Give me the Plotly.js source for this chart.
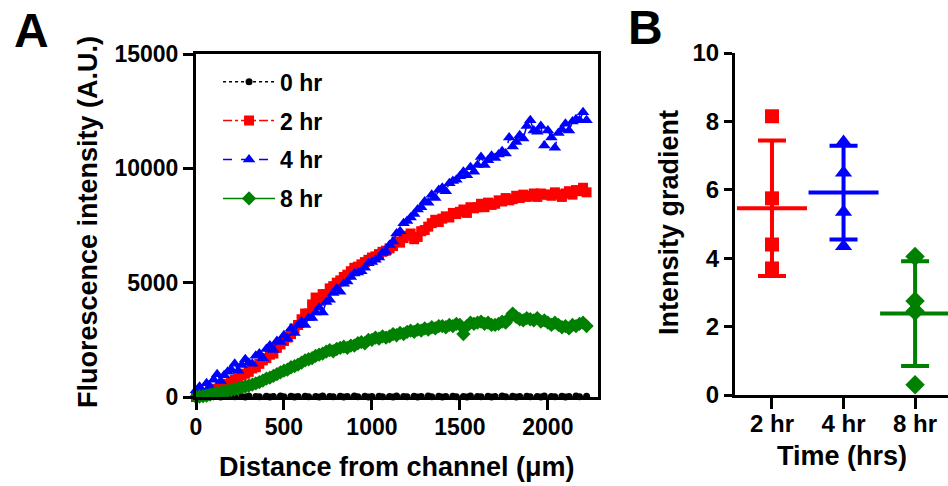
<!DOCTYPE html>
<html>
<head>
<meta charset="utf-8">
<script src="https://cdn.plot.ly/plotly-3.0.1.min.js"></script>
<style>
html,body{margin:0;padding:0;background:#fff;}
#chart{width:948px;height:486px;}
</style>
</head>
<body>
<div id="chart"></div>
<script>
// ---------- Panel A data ----------
const distance = [
0,20,40,60,80,100,120,140,160,180,
200,220,240,260,280,300,320,340,360,380,
400,420,440,460,480,500,520,540,560,580,
600,620,640,660,680,700,720,740,760,780,
800,820,840,860,880,900,920,940,960,980,
1000,1020,1040,1060,1080,1100,1120,1140,1160,1180,
1200,1220,1240,1260,1280,1300,1320,1340,1360,1380,
1400,1420,1440,1460,1480,1500,1520,1540,1560,1580,
1600,1620,1640,1660,1680,1700,1720,1740,1760,1780,
1800,1820,1840,1860,1880,1900,1920,1940,1960,1980,
2000,2020,2040,2060,2080,2100,2120,2140,2160,2180,
2200,2220];

const hr0 = [
0,20,-10,30,10,-20,40,0,20,-10,
30,10,-30,20,0,40,-10,20,10,-20,
30,0,20,-10,40,10,-20,30,0,20,
-10,30,10,-20,20,0,40,-10,20,10,
-20,30,0,20,-10,40,10,-20,30,0,
20,-10,30,10,-20,20,0,40,-10,20,
10,-20,30,0,20,-10,40,10,-20,30,
0,20,-10,30,10,-20,20,0,40,-10,
20,10,-20,30,0,20,-10,40,10,-20,
30,0,20,-10,30,10,-20,20,0,40,
-10,20,10,-20,30,0,20,-10,40,10,
-20,30];

const hr2 = [
0,60,120,180,250,300,360,440,520,580,
650,750,820,950,1020,1100,1250,1300,1450,1600,
1700,1850,1900,2150,2300,2450,2600,2750,3000,3150,
3400,3650,3650,4050,4350,4200,4500,4500,4750,4850,
5000,5100,5250,5350,5500,5650,5700,5800,5900,6000,
6100,6150,6250,6350,6400,6500,6600,6800,6750,6950,
7050,7150,6900,7000,7250,7300,7450,7600,7750,7650,
7800,7900,7850,8050,8000,8100,8200,8050,8300,8250,
8300,8450,8300,8500,8400,8450,8600,8550,8700,8600,
8650,8800,8700,8850,8750,8800,8900,8750,8900,8850,
8850,8800,8950,8850,8750,8900,9000,8850,9050,9000,
9150,8950];

const hr4 = [
300,450,200,600,450,750,1000,700,950,1100,
1200,1450,1150,1400,1650,1500,1450,1800,1900,1700,
2100,2250,2050,2450,2400,2700,2550,3000,2800,3150,
3300,3150,3450,3450,3700,3900,3700,4150,4250,4550,
4750,4600,4950,5050,5250,5400,5450,5500,5650,5850,
5900,6000,6100,6300,6350,6650,6800,7150,7250,7600,
7700,7850,8000,8200,8300,8550,8500,8850,8700,9050,
9150,9000,9350,9450,9500,9650,9850,9700,10050,9850,
10150,10500,10150,10350,10550,10450,10600,10750,10650,11350,
10950,11150,11450,11300,11850,12100,11650,11600,11850,11000,
11650,11350,10900,11550,11700,11950,11650,12050,12150,12100,
12450,12100];

const hr8 = [
0,20,40,60,100,150,180,200,250,270,
300,330,380,420,460,500,540,600,650,720,
800,850,920,1000,1080,1150,1200,1300,1350,1420,
1500,1600,1650,1700,1800,1850,1900,1980,2050,2000,
2100,2150,2200,2150,2250,2250,2350,2400,2350,2500,
2500,2600,2550,2650,2600,2650,2750,2700,2800,2750,
2850,2900,2850,2950,2900,3000,2950,3050,3000,3100,
3100,3050,3150,3100,3200,3150,2750,3100,3250,3200,
3250,3300,3200,3250,3150,3150,3200,3300,3250,3450,
3650,3500,3400,3350,3450,3400,3350,3450,3300,3350,
3250,3150,3250,3150,3050,3100,3000,3150,3100,3200,
3250,3100];

const seriesNames = ['0 hr','2 hr','4 hr','8 hr'];
const xTicksA = [0,500,1000,1500,2000];
const yTicksA = [0,5000,10000,15000];

// ---------- Panel B data ----------
const groups = ['2 hr','4 hr','8 hr'];
const grad2 = [8.15,5.75,4.4,3.7];
const grad4 = [7.4,6.5,5.35,4.35];
const grad8 = [4.05,2.75,2.45,0.3];
const gradMean = [5.46,5.92,2.38];
const gradSD = [1.98,1.37,1.53];
const yTicksB = [0,2,4,6,8,10];

const RED='#ff0000', BLUE='#0000ff', GREEN='#008000', BLACK='#000000';
const FONT='Arial, "Liberation Sans", sans-serif';

const traces = [
 {x:distance,y:hr0,name:seriesNames[0],mode:'lines+markers',legendgroup:'a',
  line:{color:BLACK,width:1.5,dash:'dot'},marker:{symbol:'circle',size:7,color:BLACK},cliponaxis:false,xaxis:'x',yaxis:'y'},
 {x:distance,y:hr2,name:seriesNames[1],mode:'lines+markers',legendgroup:'b',
  line:{color:RED,width:1.5,dash:'dashdot'},marker:{symbol:'square',size:10,color:RED},cliponaxis:false,xaxis:'x',yaxis:'y'},
 {x:distance,y:hr4,name:seriesNames[2],mode:'lines+markers',legendgroup:'c',
  line:{color:BLUE,width:1.5,dash:'dash'},marker:{symbol:'triangle-up',size:11,color:BLUE},cliponaxis:false,xaxis:'x',yaxis:'y'},
 {x:distance,y:hr8,name:seriesNames[3],mode:'lines+markers',legendgroup:'d',
  line:{color:GREEN,width:1.5},marker:{symbol:'diamond',size:11,color:GREEN},cliponaxis:false,xaxis:'x',yaxis:'y'},
];

// Panel B points
const ptsB = [[grad2,RED,'square',14],[grad4,BLUE,'triangle-up',15],[grad8,GREEN,'diamond',15]];
ptsB.forEach((p,i)=>{
  traces.push({x:p[0].map(()=>groups[i]),y:p[0],mode:'markers',showlegend:false,
    marker:{symbol:p[2],size:p[3],color:p[1]},cliponaxis:false,xaxis:'x2',yaxis:'y2'});
});
// Mean +/- SD
[RED,BLUE,GREEN].forEach((c,i)=>{
  traces.push({x:[groups[i]],y:[gradMean[i]],mode:'markers',showlegend:false,
    marker:{symbol:'line-ew',size:50,color:c,line:{color:c,width:4}},
    error_y:{type:'data',array:[gradSD[i]],visible:true,color:c,thickness:4,width:14},
    cliponaxis:false,xaxis:'x2',yaxis:'y2'});
});

const tickFont={family:FONT,size:23,color:'#000',weight:'bold'};
const tickFontB={family:FONT,size:24,color:'#000',weight:'bold'};
const titleFont={family:FONT,size:27,color:'#000',weight:'bold'};

const layout = {
  width:948,height:486,margin:{l:0,r:0,t:0,b:0},
  paper_bgcolor:'#fff',plot_bgcolor:'#fff',
  showlegend:true,
  legend:{x:0.230,y:0.876,xanchor:'left',yanchor:'top',font:{family:FONT,size:23,color:'#000',weight:'bold'},
    bgcolor:'rgba(0,0,0,0)',traceorder:'grouped',tracegroupgap:6,itemwidth:52},
  xaxis:{domain:[196/948,598/948],range:[0,2285],tickvals:xTicksA,ticktext:xTicksA.map(String),
    showline:true,linecolor:'#000',linewidth:3,mirror:true,ticks:'outside',ticklen:10,tickwidth:3,tickcolor:'#000',
    showgrid:false,zeroline:false,tickfont:tickFont,anchor:'y',automargin:false,ticklabelstandoff:-3},
  yaxis:{domain:[1-397/486,1-54/486],range:[0,15000],tickvals:yTicksA,ticktext:yTicksA.map(String),
    showline:true,linecolor:'#000',linewidth:3,mirror:true,ticks:'outside',ticklen:10,tickwidth:3,tickcolor:'#000',
    showgrid:false,zeroline:false,tickfont:tickFont,anchor:'x',automargin:false},
  xaxis2:{domain:[735/948,1],range:[-0.517,2.46],type:'category',categoryarray:groups,
    showline:true,linecolor:'#000',linewidth:3,ticks:'outside',ticklen:11,tickwidth:3,tickcolor:'#000',
    showgrid:false,zeroline:false,tickfont:tickFontB,anchor:'y2',automargin:false,ticklabelstandoff:-6},
  yaxis2:{domain:[1-395/486,1-53/486],range:[0,10],tickvals:yTicksB,ticktext:yTicksB.map(String),
    showline:true,linecolor:'#000',linewidth:3,ticks:'outside',ticklen:8,tickwidth:3,tickcolor:'#000',
    showgrid:false,zeroline:false,tickfont:tickFontB,anchor:'x2',automargin:false},
  annotations:[
    {text:'Distance from channel (μm)',xref:'paper',yref:'paper',x:397/948,y:1-467/486,xanchor:'center',yanchor:'middle',showarrow:false,font:titleFont},
    {text:'Fluorescence intensity (A.U.)',xref:'paper',yref:'paper',x:88/948,y:1-222/486,xanchor:'center',yanchor:'middle',textangle:-90,showarrow:false,font:titleFont},
    {text:'Time (hrs)',xref:'paper',yref:'paper',x:842/948,y:1-456/486,xanchor:'center',yanchor:'middle',showarrow:false,font:titleFont},
    {text:'Intensity gradient',xref:'paper',yref:'paper',x:669/948,y:1-223/486,xanchor:'center',yanchor:'middle',textangle:-90,showarrow:false,font:titleFont},
    {text:'A',xref:'paper',yref:'paper',x:31/948,y:1-30/486,xanchor:'center',yanchor:'middle',showarrow:false,font:{family:FONT,size:48,color:'#000',weight:'bold'}},
    {text:'B',xref:'paper',yref:'paper',x:645/948,y:1-28/486,xanchor:'center',yanchor:'middle',showarrow:false,font:{family:FONT,size:48,color:'#000',weight:'bold'}}
  ]
};

Plotly.newPlot('chart',traces,layout,{displayModeBar:false,staticPlot:true});
</script>
</body>
</html>
